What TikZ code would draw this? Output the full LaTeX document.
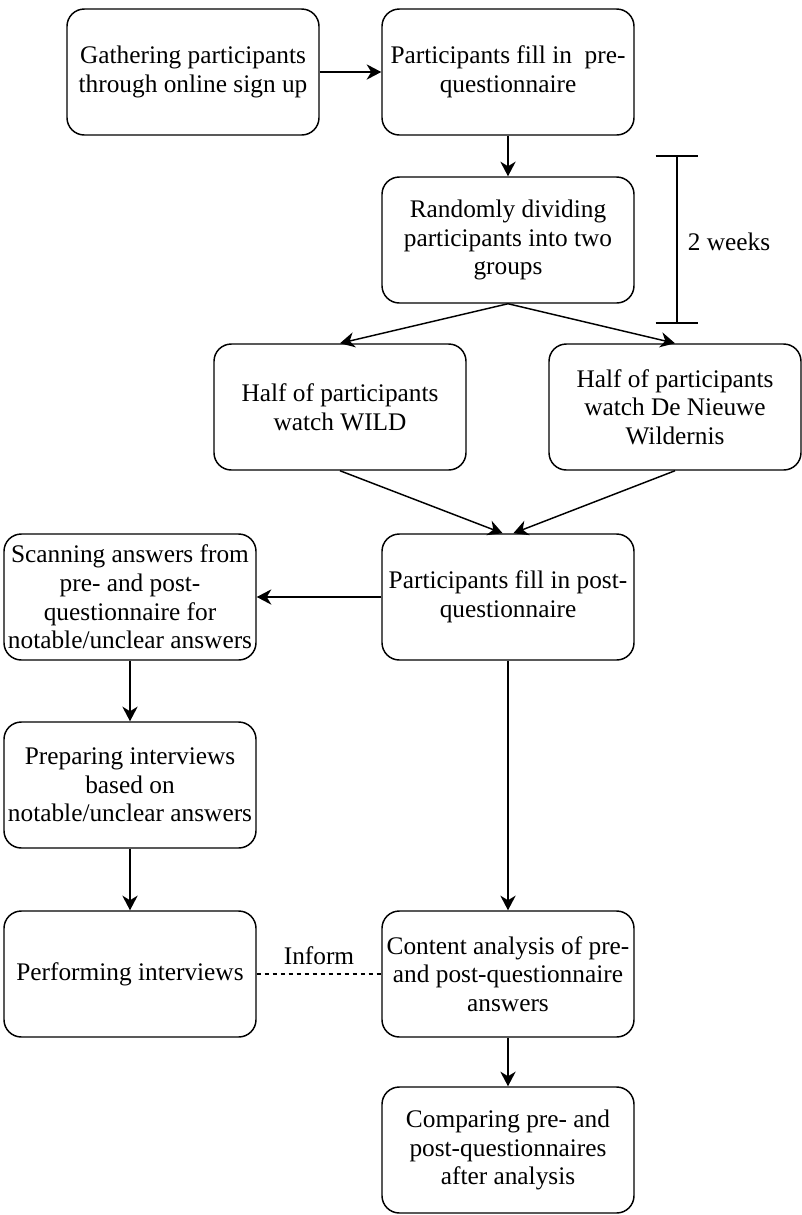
\documentclass[tikz,border=0pt]{standalone}
\usepackage{fontspec}
\setmainfont{Liberation Serif}
\usetikzlibrary{arrows.meta}
\tikzset{
    proc/.style={draw, rounded corners=13pt, line width=1.1pt, align=center,
        minimum width=189pt, minimum height=94.5pt, inner sep=2pt,
        font=\fontsize{19}{21.5}\selectfont},
    flow/.style={->, line width=1.1pt},
}
\begin{document}
\begin{tikzpicture}[x=0.75pt,y=-0.75pt,>={Stealth[length=11pt,width=11.5pt,inset=3.5pt]}]
    \useasboundingbox (0,0) rectangle (802,1215);
    \node[proc] (gather) at (193,72) {Gathering participants\\through online sign up};
    \node[proc] (pre) at (508,72) {Participants fill in\ \ pre-\\questionnaire};
    \node[proc] (divide) at (508,240) {Randomly dividing\\participants into two\\groups};
    \node[proc] (wild) at (340,407) {Half of participants\\watch WILD};
    \node[proc] (nieuwe) at (675,407) {Half of participants\\watch De Nieuwe\\Wildernis};
    \node[proc] (post) at (508,597) {Participants fill in post-\\questionnaire};
    \node[proc] (scan) at (130,597) {Scanning answers from\\pre- and post-\\questionnaire for\\notable/unclear answers};
    \node[proc] (prep) at (130,785) {Preparing interviews\\based on\\notable/unclear answers};
    \node[proc] (interv) at (130,974) {Performing interviews};
    \node[proc] (content) at (508,974) {Content analysis of pre-\\and post-questionnaire\\answers};
    \node[proc] (compare) at (508,1150) {Comparing pre- and\\post-questionnaires\\after analysis};

    \draw[flow] (gather) -- (pre);
    \draw[flow] (pre) -- (divide);
    \draw[flow] (divide.south) -- (wild.north);
    \draw[flow] (divide.south) -- (nieuwe.north);
    \draw[flow] (wild.south) -- ([xshift=-4pt]post.north);
    \draw[flow] (nieuwe.south) -- ([xshift=4pt]post.north);
    \draw[flow] (post) -- (scan);
    \draw[flow] (scan) -- (prep);
    \draw[flow] (prep) -- (interv);
    \draw[flow] (post) -- (content);
    \draw[flow] (content) -- (compare);
    \draw[dashed, line width=0.8pt] (interv) -- node[above=3pt, font=\fontsize{19}{21.5}\selectfont] (inform) {Inform} (content);

    \coordinate (wkTop) at (677,156);
    \coordinate (wkBot) at (677,323);
    \draw[line width=1.1pt] (wkTop) -- (wkBot);
    \draw[line width=1.1pt] ([xshift=-16pt]wkTop) -- ([xshift=16pt]wkTop);
    \draw[line width=1.1pt] ([xshift=-16pt]wkBot) -- ([xshift=16pt]wkBot);
    \node[font=\fontsize{19}{21.5}\selectfont] (weeks) at (729,242) {2 weeks};
\end{tikzpicture}
\end{document}
